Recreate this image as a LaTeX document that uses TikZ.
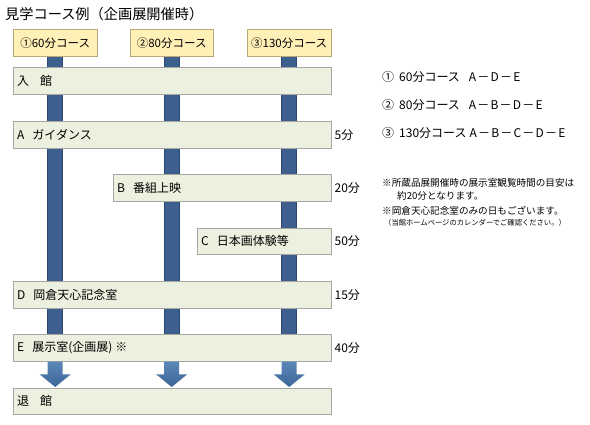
\documentclass[tikz,border=0pt]{standalone}
\usepackage{fontspec}
\setmainfont{Noto Sans CJK JP}
\usetikzlibrary{backgrounds,calc,shadows}
\definecolor{yfill}{HTML}{FFF0B8}
\definecolor{yborder}{HTML}{B8A878}
\definecolor{gfill}{HTML}{EBF1DE}
\definecolor{gborder}{HTML}{A6A6A6}
\definecolor{barfill}{HTML}{3C5F8E}
\definecolor{barborder}{HTML}{2B4870}
\definecolor{arrtop}{HTML}{5A86B8}
\definecolor{arrbot}{HTML}{3E6698}
\newcommand\mydsh{\hspace{1.2pt}－\hspace{1.2pt}}
\begin{document}
\begin{tikzpicture}[x=1pt,y=-1pt,
  course/.style={draw=yborder, fill=yfill, anchor=north west, minimum height=27pt, inner sep=0pt, font=\fontsize{11.5}{12}\selectfont},
  stage/.style={draw=gborder, fill=gfill, anchor=north west, minimum height=27pt, inner xsep=4pt, inner ysep=0pt, align=left,
    font=\fontsize{12}{13}\selectfont, drop shadow={shadow xshift=1pt, shadow yshift=-1pt, opacity=0.45, fill=gray}},
  dur/.style={anchor=west, inner sep=0pt, font=\fontsize{12}{13}\selectfont},
  legend/.style={anchor=west, inner sep=0pt, font=\fontsize{12}{13}\selectfont},
  note/.style={anchor=west, inner sep=0pt, font=\fontsize{9.6}{10}\selectfont},
  smallnote/.style={anchor=west, inner sep=0pt, font=\fontsize{7.3}{8}\selectfont},
  bar/.style={fill=barfill, draw=barborder, line width=0.6pt},
  arr/.style={top color=arrtop, bottom color=arrbot, draw=none}
]
\useasboundingbox (0,0) rectangle (590,425);

\node[anchor=west, inner sep=0pt, font=\fontsize{14.2}{15}\selectfont] (title) at (5,14) {見学コース例（企画展開催時）};

\node[course, minimum width=84pt] (c1) at (13,29) {①60分コース};
\node[course, minimum width=83pt] (c2) at (130,29) {②80分コース};
\node[course, minimum width=84pt] (c3) at (247,29) {③130分コース};

\node[stage, text width=310pt] (in) at (13,67) {入\hspace{11pt}館};
\node[stage, text width=310pt] (A) at (13,121) {A\hspace{8pt}ガイダンス};
\node[stage, text width=210pt] (B) at (113,174) {B\hspace{8pt}番組上映};
\node[stage, text width=126pt, minimum height=26pt] (C) at (197,228) {C\hspace{8pt}日本画体験等};
\node[stage, text width=310pt] (D) at (13,281) {D\hspace{8pt}岡倉天心記念室};
\node[stage, text width=310pt] (E) at (13,334) {E\hspace{8pt}展示室(企画展)\hspace{3pt}※};
\node[stage, text width=310pt, minimum height=26pt] (out) at (13,388) {退\hspace{11pt}館};

\node[dur] (tA) at ($(A.east)+(3,0)$) {5分};
\node[dur] (tB) at ($(B.east)+(3,0)$) {20分};
\node[dur] (tC) at ($(C.east)+(3,0)$) {50分};
\node[dur] (tD) at ($(D.east)+(3,0)$) {15分};
\node[dur] (tE) at ($(E.east)+(3,0)$) {40分};

\node[legend] (l1) at (382,77) {①\hspace{5pt}60分コース\hspace{9pt}A\mydsh D\mydsh E};
\node[legend] (l2) at (382,105) {②\hspace{5pt}80分コース\hspace{9pt}A\mydsh B\mydsh D\mydsh E};
\node[legend] (l3) at (382,133) {③\hspace{5pt}130分コース\hspace{3pt}A\mydsh B\mydsh C\mydsh D\mydsh E};

\node[note] (n1) at (382,183) {※所蔵品展開催時の展示室観覧時間の目安は};
\node[note] (n2) at (397,196) {約20分となります。};
\node[note] (n3) at (382,211) {※岡倉天心記念室のみの日もございます。};
\node[smallnote] (n4) at (384,223) {（当館ホームページのカレンダーでご確認ください。）};

\begin{pgfonlayer}{background}
  \foreach \c in {c1,c2,c3}{
    \path[bar] ($(\c.south)+(-7.5,0)$) rectangle ($(\c.south |- E.south)+(7.5,0)$);
  }
\end{pgfonlayer}

\foreach \c/\n in {c1/a1,c2/a2,c3/a3}{
  \coordinate (\n top) at (\c.south |- E.south);
  \coordinate (\n tip) at ($(\c.south |- out.north)+(0,-1)$);
  \path[arr] ($(\n top)+(-7.5,0.3)$) -- ($(\n top)+(-7.5,13)$) -- ($(\n top)+(-15.5,13)$) -- (\n tip)
     -- ($(\n top)+(15.5,13)$) -- ($(\n top)+(7.5,13)$) -- ($(\n top)+(7.5,0.3)$) -- cycle;
}
\end{tikzpicture}
\end{document}
